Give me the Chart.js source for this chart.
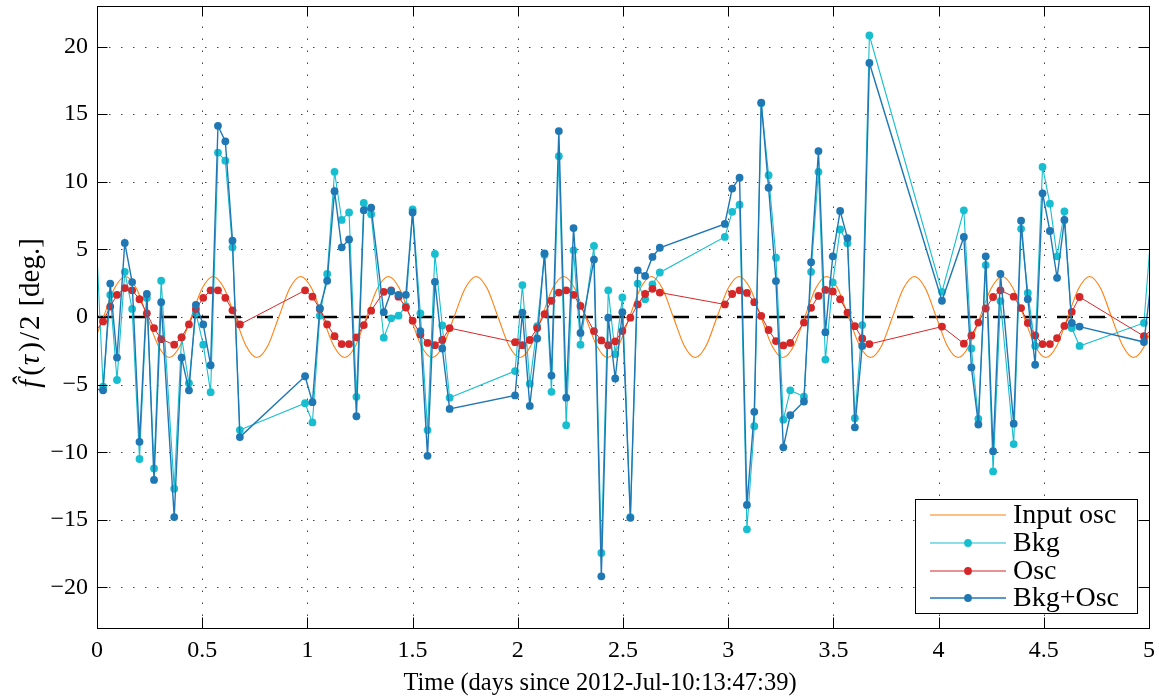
<!DOCTYPE html>
<html><head><meta charset="utf-8">
<script src="https://cdn.jsdelivr.net/npm/chart.js@4/dist/chart.umd.min.js"></script>
<style>html,body{margin:0;padding:0;background:#fff;}#wrap{width:1159px;height:698px;position:relative;}</style>
</head><body><div id="wrap"><canvas id="c"></canvas></div>
<script>
// ---------------- data ----------------
const seriesLabels = ['Input osc', 'Bkg', 'Osc', 'Bkg+Osc'];
const xTitle = 'Time (days since 2012-Jul-10:13:47:39)';
const xTickValues = [0, 0.5, 1, 1.5, 2, 2.5, 3, 3.5, 4, 4.5, 5];
const xTickLabels = ['0', '0.5', '1', '1.5', '2', '2.5', '3', '3.5', '4', '4.5', '5'];
const yTickValues = [-20, -15, -10, -5, 0, 5, 10, 15, 20];
const yTickLabels = ['\u221220', '\u221215', '\u221210', '\u22125', '0', '5', '10', '15', '20'];

const obsTimes = [
  -0.020, 0.029, 0.063, 0.095, 0.132, 0.167, 0.202, 0.237, 0.271, 0.305, 0.367, 0.402, 0.437, 0.470, 0.505, 0.540, 0.575, 0.610, 0.644, 0.679,
  0.989, 1.024, 1.059, 1.094, 1.129, 1.163, 1.198, 1.233, 1.268, 1.303, 1.363, 1.398, 1.433, 1.468, 1.500, 1.537, 1.571, 1.606, 1.641, 1.676,
  1.987, 2.022, 2.057, 2.092, 2.127, 2.160, 2.195, 2.230, 2.265, 2.298, 2.362, 2.397, 2.430, 2.463, 2.497, 2.535, 2.570, 2.605, 2.640, 2.675,
  2.984, 3.019, 3.054, 3.089, 3.124, 3.157, 3.192, 3.227, 3.262, 3.295, 3.360, 3.394, 3.429, 3.462, 3.497, 3.532, 3.567, 3.602, 3.637, 3.671,
  4.016, 4.120, 4.156, 4.189, 4.224, 4.259, 4.294, 4.357, 4.392, 4.424, 4.459, 4.494, 4.529, 4.563, 4.598, 4.633, 4.670, 4.976, 5.025
];
const bkgValues = [
  11.3, -5.15, 1.64, -4.66, 3.34, 0.6, -10.5, 1.4, -11.2, 2.68, -12.7, -1.5, -4.9, 0.3, -2.05, -5.56, 12.16, 11.56, 5.15, -8.36,
  -6.38, -7.8, 0.1, 3.18, 10.74, 7.18, 7.73, -5.9, 8.44, 7.6, -1.53, -0.1, 0.1, 0.8, 7.95, 0.27, -8.36, 4.66, -0.63, -5.97,
  -4.0, 2.36, -4.93, -0.68, 4.6, -5.53, 11.89, -8.0, 4.93, -2.05, 5.26, -17.45, 1.97, -2.74, 1.45, -14.8, 2.47, 1.32, 2.41, 3.29,
  5.92, 7.78, 8.3, -15.7, -8.08, 15.8, 10.49, 4.38, -7.59, -5.42, -5.89, 3.34, 10.74, -3.15, 2.56, 6.47, 5.45, -7.48, -0.6, 20.82,
  1.86, 7.89, -2.33, -7.53, 3.84, -11.42, 1.18, -9.4, 6.52, 1.78, -2.14, 11.1, 8.38, 4.49, 7.81, -0.82, -2.14, -0.44, 9.4
];
const oscValues = [
  -1.3, -0.33, 0.77, 1.64, 2.14, 1.97, 1.32, 0.27, -0.82, -1.64, -2.05, -1.5, -0.55, 0.6, 1.42, 1.97, 1.97, 1.42, 0.49, -0.55,
  1.97, 1.5, 0.6, -0.55, -1.42, -2.0, -2.0, -1.5, -0.6, 0.47, 1.86, 1.97, 1.5, 0.7, -0.27, -1.3, -1.92, -2.08, -1.7, -0.82,
  -1.86, -2.08, -1.7, -0.82, 0.22, 1.2, 1.81, 1.97, 1.64, 0.82, -1.04, -1.73, -2.08, -1.8, -1.04, -0.05, 0.93, 1.7, 2.08, 1.81,
  0.93, 1.7, 1.97, 1.78, 1.1, 0.08, -0.96, -1.78, -2.1, -1.92, -0.41, 0.68, 1.56, 2.0, 1.89, 1.32, 0.33, -0.68, -1.59, -2.0,
  -0.71, -1.97, -1.37, -0.41, 0.63, 1.48, 1.97, 1.5, 0.66, -0.44, -1.37, -2.0, -2.0, -1.56, -0.66, 0.38, 1.48, -1.42, -0.8
];
const bkgOscValues = [
  -5.3, -5.42, 2.47, -3.0, 5.48, 2.58, -9.23, 1.7, -12.05, 1.1, -14.8, -3.0, -5.42, 0.9, -0.55, -3.56, 14.14, 12.99, 5.64, -8.88,
  -4.38, -6.3, 0.66, 2.68, 9.3, 5.15, 5.73, -7.34, 7.9, 8.08, 0.36, 1.9, 1.64, 1.64, 7.73, -1.04, -10.27, 2.6, -2.33, -6.8,
  -5.8, 0.33, -6.58, -1.59, 4.71, -4.33, 13.75, -5.97, 6.58, -1.18, 4.25, -19.18, -0.05, -4.55, 0.36, -14.85, 3.45, 3.04, 4.44, 5.12,
  6.88, 9.5, 10.3, -13.9, -7.01, 15.86, 9.56, 2.66, -9.64, -7.26, -6.25, 4.05, 12.27, -1.12, 4.49, 7.84, 5.84, -8.16, -2.14, 18.79,
  1.2, 5.92, -3.73, -7.95, 4.49, -9.92, 3.18, -7.89, 7.12, 1.32, -3.53, 9.15, 6.36, 2.9, 7.18, -0.44, -0.71, -1.85, 4.6
];
const inputTimes = [
  -0.021, 0.031, 0.083, 0.135, 0.187, 0.239, 0.291, 0.343, 0.395, 0.448, 0.500, 0.552, 0.604, 0.656, 0.708, 0.760, 0.812, 0.864, 0.916, 0.968,
  1.020, 1.072, 1.125, 1.177, 1.229, 1.281, 1.333, 1.385, 1.437, 1.489, 1.541, 1.593, 1.645, 1.697, 1.750, 1.802, 1.854, 1.906, 1.958, 2.010,
  2.062, 2.114, 2.166, 2.218, 2.270, 2.322, 2.375, 2.427, 2.479, 2.531, 2.583, 2.635, 2.687, 2.739, 2.791, 2.843, 2.895, 2.947, 3.000, 3.052,
  3.104, 3.156, 3.208, 3.260, 3.312, 3.364, 3.416, 3.468, 3.520, 3.572, 3.625, 3.677, 3.729, 3.781, 3.833, 3.885, 3.937, 3.989, 4.041, 4.093,
  4.145, 4.197, 4.250, 4.302, 4.354, 4.406, 4.458, 4.510, 4.562, 4.614, 4.666, 4.718, 4.770, 4.822, 4.875, 4.927, 4.979, 5.031
];
const inputValues = [
  -2.12, 0, 2.12,
  3, 2.12, 0, -2.12, -3, -2.12, 0, 2.12,
  3, 2.12, 0, -2.12, -3, -2.12, 0, 2.12,
  3, 2.12, 0, -2.12, -3, -2.12, 0, 2.12,
  3, 2.12, 0, -2.12, -3, -2.12, 0, 2.12,
  3, 2.12, 0, -2.12, -3, -2.12, 0, 2.12,
  3, 2.12, 0, -2.12, -3, -2.12, 0, 2.12,
  3, 2.12, 0, -2.12, -3, -2.12, 0, 2.12,
  3, 2.12, 0, -2.12, -3, -2.12, 0, 2.12,
  3, 2.12, 0, -2.12, -3, -2.12, 0, 2.12,
  3, 2.12, 0, -2.12, -3, -2.12, 0, 2.12,
  3, 2.12, 0, -2.12, -3, -2.12, 0, 2.12,
  3, 2.12, 0, -2.12, -3, -2.12, 0
];

// ---------------- style ----------------
const FONT = '"Liberation Serif", "Times New Roman", serif';
const TICK_SIZE = 24;
const LEGEND_SIZE = 28;
const COLORS = { input: '#ff7f0e', bkg: '#17becf', osc: '#d62728', both: '#1f77b4' };
Chart.defaults.font.family = FONT;
Chart.defaults.color = '#000';

const pts = (xs, ys) => xs.map((x, i) => ({ x: x, y: ys[i] }));

const gridPlugin = {
  id: 'matGrid',
  beforeDatasetsDraw(chart) {
    const { ctx, chartArea: a, scales: { x, y } } = chart;
    ctx.save();
    ctx.beginPath(); ctx.rect(a.left, a.top, a.right - a.left, a.bottom - a.top); ctx.clip();
    ctx.strokeStyle = '#444'; ctx.lineWidth = 1; ctx.setLineDash([1.5, 10.5]);
    xTickValues.forEach(v => {
      const px = Math.round(x.getPixelForValue(v)) + 0.5;
      ctx.beginPath(); ctx.moveTo(px, a.bottom); ctx.lineTo(px, a.top); ctx.stroke();
    });
    yTickValues.forEach(v => {
      const py = Math.round(y.getPixelForValue(v)) + 0.5;
      ctx.beginPath(); ctx.moveTo(a.left, py); ctx.lineTo(a.right, py); ctx.stroke();
    });
    ctx.strokeStyle = '#000'; ctx.lineWidth = 2.5; ctx.setLineDash([16, 16]);
    const y0 = y.getPixelForValue(0);
    ctx.beginPath(); ctx.moveTo(a.left, y0); ctx.lineTo(a.right, y0); ctx.stroke();
    ctx.restore();
  },
  afterDatasetsDraw(chart) {
    const { ctx, chartArea: a, scales: { x, y } } = chart;
    ctx.save();
    ctx.strokeStyle = '#000'; ctx.lineWidth = 1; ctx.setLineDash([]);
    const L = 10.5;
    xTickValues.forEach(v => {
      const px = Math.round(x.getPixelForValue(v)) + 0.5;
      ctx.beginPath(); ctx.moveTo(px, a.bottom); ctx.lineTo(px, a.bottom - L);
      ctx.moveTo(px, a.top); ctx.lineTo(px, a.top + L); ctx.stroke();
    });
    yTickValues.forEach(v => {
      const py = Math.round(y.getPixelForValue(v)) + 0.5;
      ctx.beginPath(); ctx.moveTo(a.left, py); ctx.lineTo(a.left + L, py);
      ctx.moveTo(a.right, py); ctx.lineTo(a.right - L, py); ctx.stroke();
    });
    ctx.strokeRect(Math.round(a.left) + 0.5, Math.round(a.top) + 0.5, Math.round(a.right - a.left), Math.round(a.bottom - a.top));
    ctx.restore();
  }
};

const legendPlugin = {
  id: 'matLegend',
  afterDraw(chart) {
    const ctx = chart.ctx;
    const bx = 915.5, by = 499.5, bw = 222, bh = 114;
    ctx.save();
    ctx.fillStyle = '#fff'; ctx.fillRect(bx, by, bw, bh);
    ctx.strokeStyle = '#000'; ctx.lineWidth = 1; ctx.strokeRect(bx, by, bw, bh);
    const rows = [515, 543, 571, 598];
    const cols = [COLORS.input, COLORS.bkg, COLORS.osc, COLORS.both];
    const marks = [false, true, true, true];
    rows.forEach((ry, i) => {
      ctx.strokeStyle = cols[i]; ctx.lineWidth = i === 3 ? 1.4 : 1.1;
      ctx.beginPath(); ctx.moveTo(930, ry); ctx.lineTo(1006, ry); ctx.stroke();
      if (marks[i]) { ctx.fillStyle = cols[i]; ctx.beginPath(); ctx.arc(968, ry, 3.9, 0, Math.PI * 2); ctx.fill(); }
      ctx.fillStyle = '#000'; ctx.font = LEGEND_SIZE + 'px ' + FONT;
      ctx.textAlign = 'left'; ctx.textBaseline = 'middle';
      ctx.fillText(seriesLabels[i], 1013, ry + 1);
    });
    ctx.restore();
  }
};

const titlePlugin = {
  id: 'matTitles',
  afterDraw(chart) {
    const ctx = chart.ctx;
    ctx.save();
    ctx.fillStyle = '#000';
    ctx.font = '24.5px ' + FONT;
    ctx.textAlign = 'center'; ctx.textBaseline = 'middle';
    ctx.fillText(xTitle, 600, 684);
    ctx.translate(31, 313);
    ctx.rotate(-Math.PI / 2);
    const parts = [['f\u0302', true, 4], ['(', false, 1], ['\u03c4', true, 3], [')', false, 2], ['/', false, 2], ['2', false, 9], ['[deg.]', false, 0]];
    const fnt = it => (it ? 'italic ' : '') + '29px ' + FONT;
    let total = 0;
    parts.forEach(p => { ctx.font = fnt(p[1]); total += ctx.measureText(p[0]).width + p[2]; });
    let cx = -total / 2;
    ctx.textAlign = 'left';
    parts.forEach(p => { ctx.font = fnt(p[1]); ctx.fillText(p[0], cx, 0); cx += ctx.measureText(p[0]).width + p[2]; });
    ctx.restore();
  }
};

const common = { fill: false, tension: 0, clip: 0, pointBorderWidth: 0, pointHoverRadius: 4 };
const zeroPad = s => { s.paddingTop = 0; s.paddingBottom = 0; s.paddingLeft = 0; s.paddingRight = 0; };

new Chart(document.getElementById('c'), {
  type: 'line',
  data: {
    datasets: [
      Object.assign({}, common, { label: seriesLabels[3], data: pts(obsTimes, bkgOscValues), borderColor: COLORS.both, backgroundColor: COLORS.both, borderWidth: 1.4, pointRadius: 3.9, order: 1 }),
      Object.assign({}, common, { label: seriesLabels[2], data: pts(obsTimes, oscValues), borderColor: COLORS.osc, backgroundColor: COLORS.osc, borderWidth: 1, pointRadius: 3.9, order: 2 }),
      Object.assign({}, common, { label: seriesLabels[1], data: pts(obsTimes, bkgValues), borderColor: COLORS.bkg, backgroundColor: COLORS.bkg, borderWidth: 1.1, pointRadius: 3.9, order: 3 }),
      Object.assign({}, common, { label: seriesLabels[0], data: pts(inputTimes, inputValues), borderColor: COLORS.input, borderWidth: 1.1, pointRadius: 0, cubicInterpolationMode: 'monotone', order: 4 })
    ]
  },
  options: {
    responsive: true, maintainAspectRatio: false, animation: false,
    layout: { padding: { left: 0, right: 10, top: 6, bottom: 0 } },
    plugins: { legend: { display: false }, tooltip: { enabled: false } },
    scales: {
      x: {
        type: 'linear', min: 0, max: 5,
        grid: { display: false, drawTicks: false }, border: { display: false },
        afterBuildTicks: s => { s.ticks = xTickValues.map(v => ({ value: v })); },
        afterFit: s => { s.height = 70; zeroPad(s); },
        ticks: { color: '#000', padding: 8, maxRotation: 0, autoSkip: false, font: { family: FONT, size: TICK_SIZE },
          callback: (v, i) => xTickLabels[i] }
      },
      y: {
        type: 'linear', min: -23, max: 23,
        grid: { display: false, drawTicks: false }, border: { display: false },
        afterBuildTicks: s => { s.ticks = yTickValues.map(v => ({ value: v })); },
        afterFit: s => { s.width = 97; zeroPad(s); },
        ticks: { color: '#000', padding: 9, autoSkip: false, font: { family: FONT, size: TICK_SIZE },
          callback: (v, i) => yTickLabels[i] }
      }
    }
  },
  plugins: [gridPlugin, legendPlugin, titlePlugin]
});
</script></body></html>
